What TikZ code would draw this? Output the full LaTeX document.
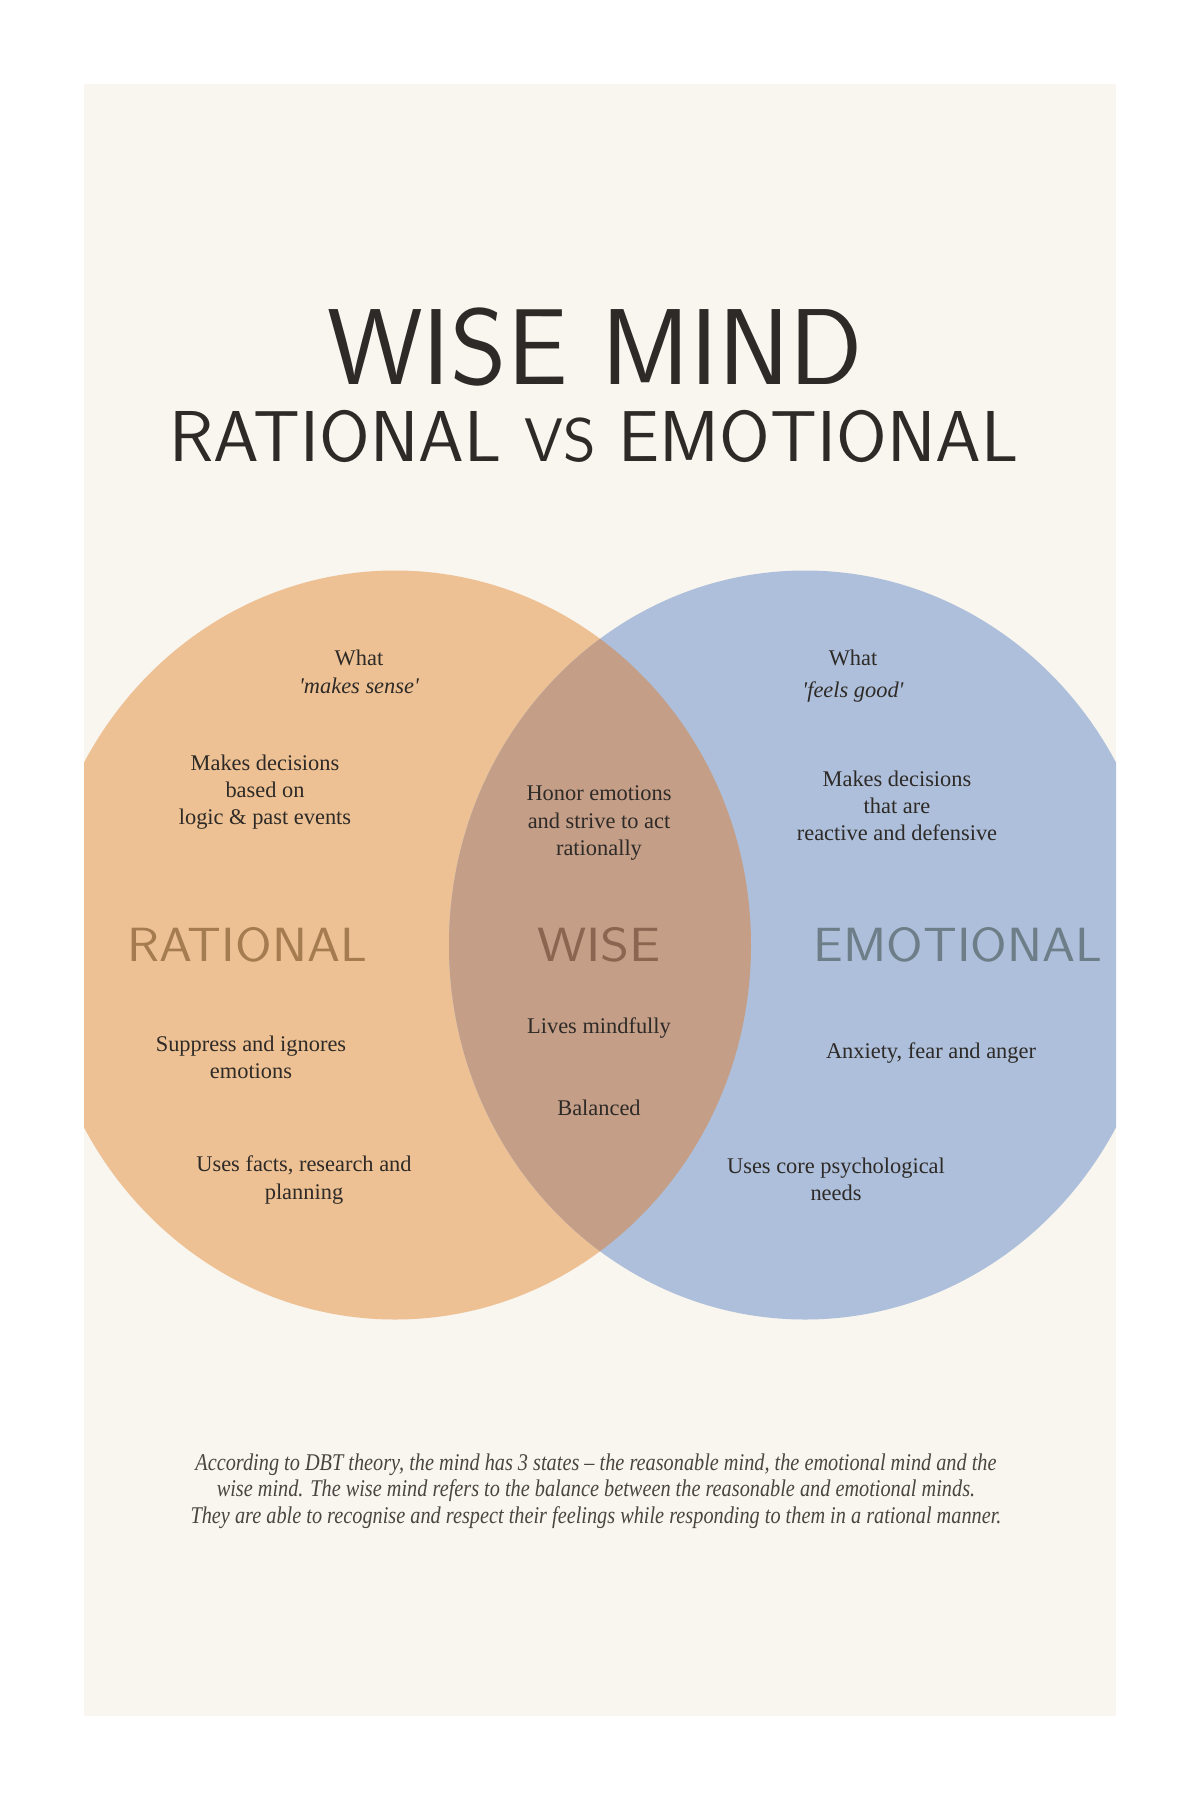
\documentclass[tikz,border=0pt]{standalone}
\usepackage{fontspec}
\setmainfont{Liberation Serif}
\usetikzlibrary{positioning}

\definecolor{paper}{HTML}{F9F5EF}
\definecolor{ratfill}{HTML}{EDC193}
\definecolor{emofill}{HTML}{ADBFDA}
\definecolor{wisefill}{HTML}{C49E87}
\definecolor{ink}{HTML}{2E2A27}
\definecolor{ratink}{HTML}{A57B50}
\definecolor{wiseink}{HTML}{8C6550}
\definecolor{emoink}{HTML}{6E7E88}
\definecolor{noteink}{HTML}{4B4541}

\begin{document}
\begin{tikzpicture}[x=0.5pt, y=-0.5pt,
    every node/.style={inner sep=0pt, align=center},
    titletext/.style={font=\sffamily\fontsize{50}{50}\selectfont, text=ink, xscale=1.08, yscale=1.08, transform shape},
    subtitletext/.style={font=\sffamily\fontsize{34}{34}\selectfont, text=ink, xscale=1.075, yscale=1.06, transform shape},
    mindlabel/.style={font=\sffamily\fontsize{24}{24}\selectfont, xscale=1.1, transform shape},
    pointtext/.style={font=\fontsize{11.2}{13.6}\selectfont, text=ink},
    quotetext/.style={font=\itshape\fontsize{11.2}{13.6}\selectfont, text=ink},
    notetext/.style={font=\itshape\fontsize{12}{13.2}\selectfont, text=noteink, xscale=0.845, transform shape},
    mind/.style={x radius=356, y radius=374.5}]

\useasboundingbox (0,0) rectangle (1200,1800);
\fill[white] (0,0) rectangle (1200,1800);
\fill[paper] (84,84) rectangle (1116,1716);

% the two minds, cut at the card edge
\begin{scope}
  \clip (84,84) rectangle (1116,1716);
  \fill[ratfill] (395,945) ellipse[mind];
  \fill[emofill] (805,945) ellipse[mind];
  \clip (395,945) ellipse[mind];
  \fill[wisefill] (805,945) ellipse[mind];
\end{scope}

% heading
\node[titletext]    (title)    at (595,347) {WISE MIND};
\node[subtitletext] (subtitle) at (594,436) {RATIONAL {\fontsize{29}{29}\selectfont VS} EMOTIONAL};

% rational side
\node[pointtext] (rwhat)     at (359,658)  {What};
\node[quotetext] (rsense)    at (359,686)  {\textquotesingle makes sense\textquotesingle};
\node[pointtext] (rlogic)    at (265,792)  {Makes decisions\\based on\\logic \& past events};
\node[mindlabel, text=ratink] (rational) at (247,945) {RATIONAL};
\node[pointtext] (rsuppress) at (251,1057) {Suppress and ignores\\emotions};
\node[pointtext] (rfacts)    at (304,1180) {Uses facts, research and\\planning};

% overlap
\node[pointtext] (whonor)   at (599,823)  {Honor emotions\\and strive to act\\rationally};
\node[mindlabel, text=wiseink, xscale=1.05] (wise) at (599,945) {WISE};
\node[pointtext] (wlives)   at (599,1028) {Lives mindfully};
\node[pointtext] (wbalance) at (599,1108) {Balanced};

% emotional side
\node[pointtext] (ewhat)  at (853,658)  {What};
\node[quotetext] (egood)  at (853,692)  {\textquotesingle feels good\textquotesingle};
\node[pointtext] (ereact) at (897,806)  {Makes decisions\\that are\\reactive and defensive};
\node[mindlabel, text=emoink] (emotional) at (958,945) {EMOTIONAL};
\node[pointtext] (eanx)   at (931,1053) {Anxiety, fear and anger};
\node[pointtext] (ecore)  at (836,1179) {Uses core psychological\\needs};

% closing note
\node[notetext] (note) at (596,1491) {According to DBT theory, the mind has 3 states -- the reasonable mind, the emotional mind and the\\wise mind. The wise mind refers to the balance between the reasonable and emotional minds.\\They are able to recognise and respect their feelings while responding to them in a rational manner.};
\end{tikzpicture}
\end{document}
